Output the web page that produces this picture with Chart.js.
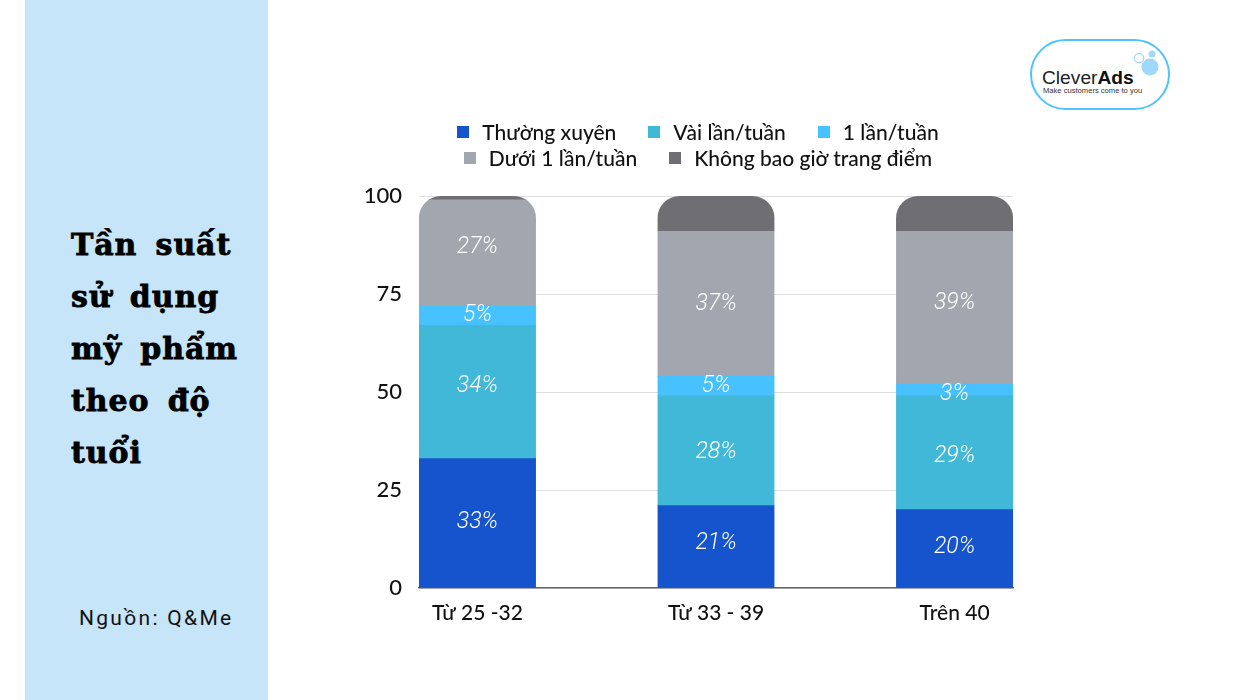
<!DOCTYPE html>
<html lang="vi">
<head>
<meta charset="utf-8">
<script src="https://cdn.jsdelivr.net/npm/chart.js@4"></script>
<style>
html,body{margin:0;padding:0;background:#fff;width:1260px;height:700px;overflow:hidden}
#panel{position:absolute;left:25px;top:0;width:243px;height:700px;background:#c7e5f8}
#title{position:absolute;left:71px;top:219px;font:900 30px/52px "DejaVu Serif",serif;color:#000;letter-spacing:.9px;word-spacing:7px;-webkit-text-stroke:.8px #000;white-space:nowrap}
#source{position:absolute;left:79px;top:604px;font:400 21px/28px Roboto,sans-serif;letter-spacing:2.3px;color:#111;white-space:nowrap}
#c{position:absolute;left:0;top:0}
#legend{position:absolute;left:398px;top:119px;width:600px;font:500 21px/26px Lato,sans-serif;color:#111}
.row{display:flex;justify-content:center;height:26px;white-space:nowrap}
.item{display:flex;align-items:center;margin-right:32px}
.item:last-child{margin-right:0}
.sw{width:12px;height:12px;margin-right:13px;display:inline-block}
#logo{position:absolute;left:1030px;top:39px;width:140px;height:71px;box-sizing:border-box;border:2.5px solid #4ec3ff;border-radius:36px;background:#fff}
#logoName{position:absolute;left:1042px;top:66px;font:400 19.2px/24px "Liberation Sans",Arial,sans-serif;color:#222;white-space:nowrap}
#logoName b{color:#111}
#logoTag{position:absolute;left:1043px;top:86px;font:400 7.6px/10px "Liberation Sans",Arial,sans-serif;color:#333;white-space:nowrap}
#bubbles{position:absolute;left:1130px;top:45px}
</style>
</head>
<body>
<div id="panel"></div>
<div id="title">Tần suất<br>sử dụng<br>mỹ phẩm<br>theo độ<br>tuổi</div>
<div id="source">Nguồn: Q&amp;Me</div>
<div id="logo"></div>
<svg id="bubbles" width="32" height="34" viewBox="0 0 32 34">
  <circle cx="20" cy="22" r="8.5" fill="#9fd8f8"/>
  <circle cx="22" cy="9" r="3.5" fill="#9fd8f8"/>
  <circle cx="9" cy="13" r="4.7" fill="none" stroke="#9fd8f8" stroke-width="1.2"/>
</svg>
<div id="logoName">Clever<b>Ads</b></div>
<div id="logoTag">Make customers come to you</div>
<canvas id="c" width="1260" height="700"></canvas>
<div id="legend"></div>
<script>
const categories = ["Từ 25 -32", "Từ 33 - 39", "Trên 40"];
const seriesNames = ["Thường xuyên", "Vài lần/tuần", "1 lần/tuần", "Dưới 1 lần/tuần", "Không bao giờ trang điểm"];
const thuongXuyen = [33, 21, 20];
const vaiLanTuan = [34, 28, 29];
const motLanTuan = [5, 5, 3];
const duoiMotLan = [27, 37, 39];
const khongBaoGio = [1, 9, 9];
const seriesValues = [thuongXuyen, vaiLanTuan, motLanTuan, duoiMotLan, khongBaoGio];
const seriesColors = ["#1554cc", "#41b8d8", "#47c1ff", "#a2a6ae", "#6f6e73"];
const yTicks = [0, 25, 50, 75, 100];
const legendRows = [[0, 1, 2], [3, 4]];
const labelledSeries = 4;
const labelNudge = [[-1, -3, -1], [-6, 1, 3], [0, 0, 4], [-6, 0, -4]];

const roundedTops = {
  id: "roundedTops",
  beforeDatasetsDraw(chart) {
    const { ctx, scales: { y } } = chart;
    const top = y.getPixelForValue(100), bottom = y.getPixelForValue(0);
    ctx.save();
    ctx.beginPath();
    chart.getDatasetMeta(0).data.forEach(bar => {
      const w = bar.width;
      ctx.roundRect(bar.x - w / 2, top, w, bottom - top, [22, 22, 0, 0]);
    });
    ctx.clip();
  },
  afterDatasetsDraw(chart) { chart.ctx.restore(); }
};
const valueLabels = {
  id: "valueLabels",
  afterDatasetsDraw(chart) {
    const { ctx } = chart;
    ctx.save();
    ctx.font = 'italic 300 23px Roboto, "Liberation Sans", sans-serif';
    ctx.fillStyle = "#fff";
    ctx.textAlign = "center";
    ctx.textBaseline = "middle";
    for (let s = 0; s < labelledSeries; s++) {
      chart.getDatasetMeta(s).data.forEach((bar, i) => {
        ctx.fillText(seriesValues[s][i] + "%", bar.x, (bar.y + bar.base) / 2 + labelNudge[s][i]);
      });
    }
    ctx.restore();
  }
};

const chart = new Chart(document.getElementById("c"), {
  type: "bar",
  data: {
    datasets: seriesNames.map((name, s) => ({
      label: name,
      data: seriesValues[s].map((v, i) => ({ x: i, y: v })),
      backgroundColor: seriesColors[s],
      borderWidth: 0,
      barThickness: 117
    }))
  },
  plugins: [roundedTops, valueLabels],
  options: {
    responsive: false,
    animation: false,
    devicePixelRatio: 1,
    layout: { padding: { top: 196, right: 247, left: 0, bottom: 0 } },
    plugins: { legend: { display: false }, tooltip: { enabled: false }, title: { display: false } },
    scales: {
      x: {
        type: "linear",
        offset: false,
        stacked: true,
        min: -0.245,
        max: 2.245,
        afterBuildTicks(scale) { scale.ticks = categories.map((_, i) => ({ value: i })); },
        afterFit(scale) { scale.height = 112; },
        grid: { display: false, offset: false },
        border: { display: true, color: "#666", width: 1.5 },
        ticks: {
          autoSkip: false, maxRotation: 0, padding: 5, color: "#111",
          font: { family: "Lato, sans-serif", size: 21, weight: 500 },
          callback: v => categories[v]
        }
      },
      y: {
        stacked: true,
        min: 0,
        max: 100,
        afterBuildTicks(scale) { scale.ticks = yTicks.map(v => ({ value: v })); },
        afterFit(scale) { scale.width = 419; },
        grid: { color: "#dedede", lineWidth: 1, drawTicks: false },
        border: { display: false },
        ticks: {
          padding: 17, color: "#111",
          font: { family: "Lato, sans-serif", size: 22, weight: 500 }
        }
      }
    }
  }
});

const legendEl = document.getElementById("legend");
legendRows.forEach(row => {
  const rowEl = document.createElement("div");
  rowEl.className = "row";
  row.forEach(s => {
    const ds = chart.data.datasets[s];
    const item = document.createElement("span");
    item.className = "item";
    const sw = document.createElement("span");
    sw.className = "sw";
    sw.style.background = ds.backgroundColor;
    item.appendChild(sw);
    item.appendChild(document.createTextNode(ds.label));
    rowEl.appendChild(item);
  });
  legendEl.appendChild(rowEl);
});
</script>
</body>
</html>
